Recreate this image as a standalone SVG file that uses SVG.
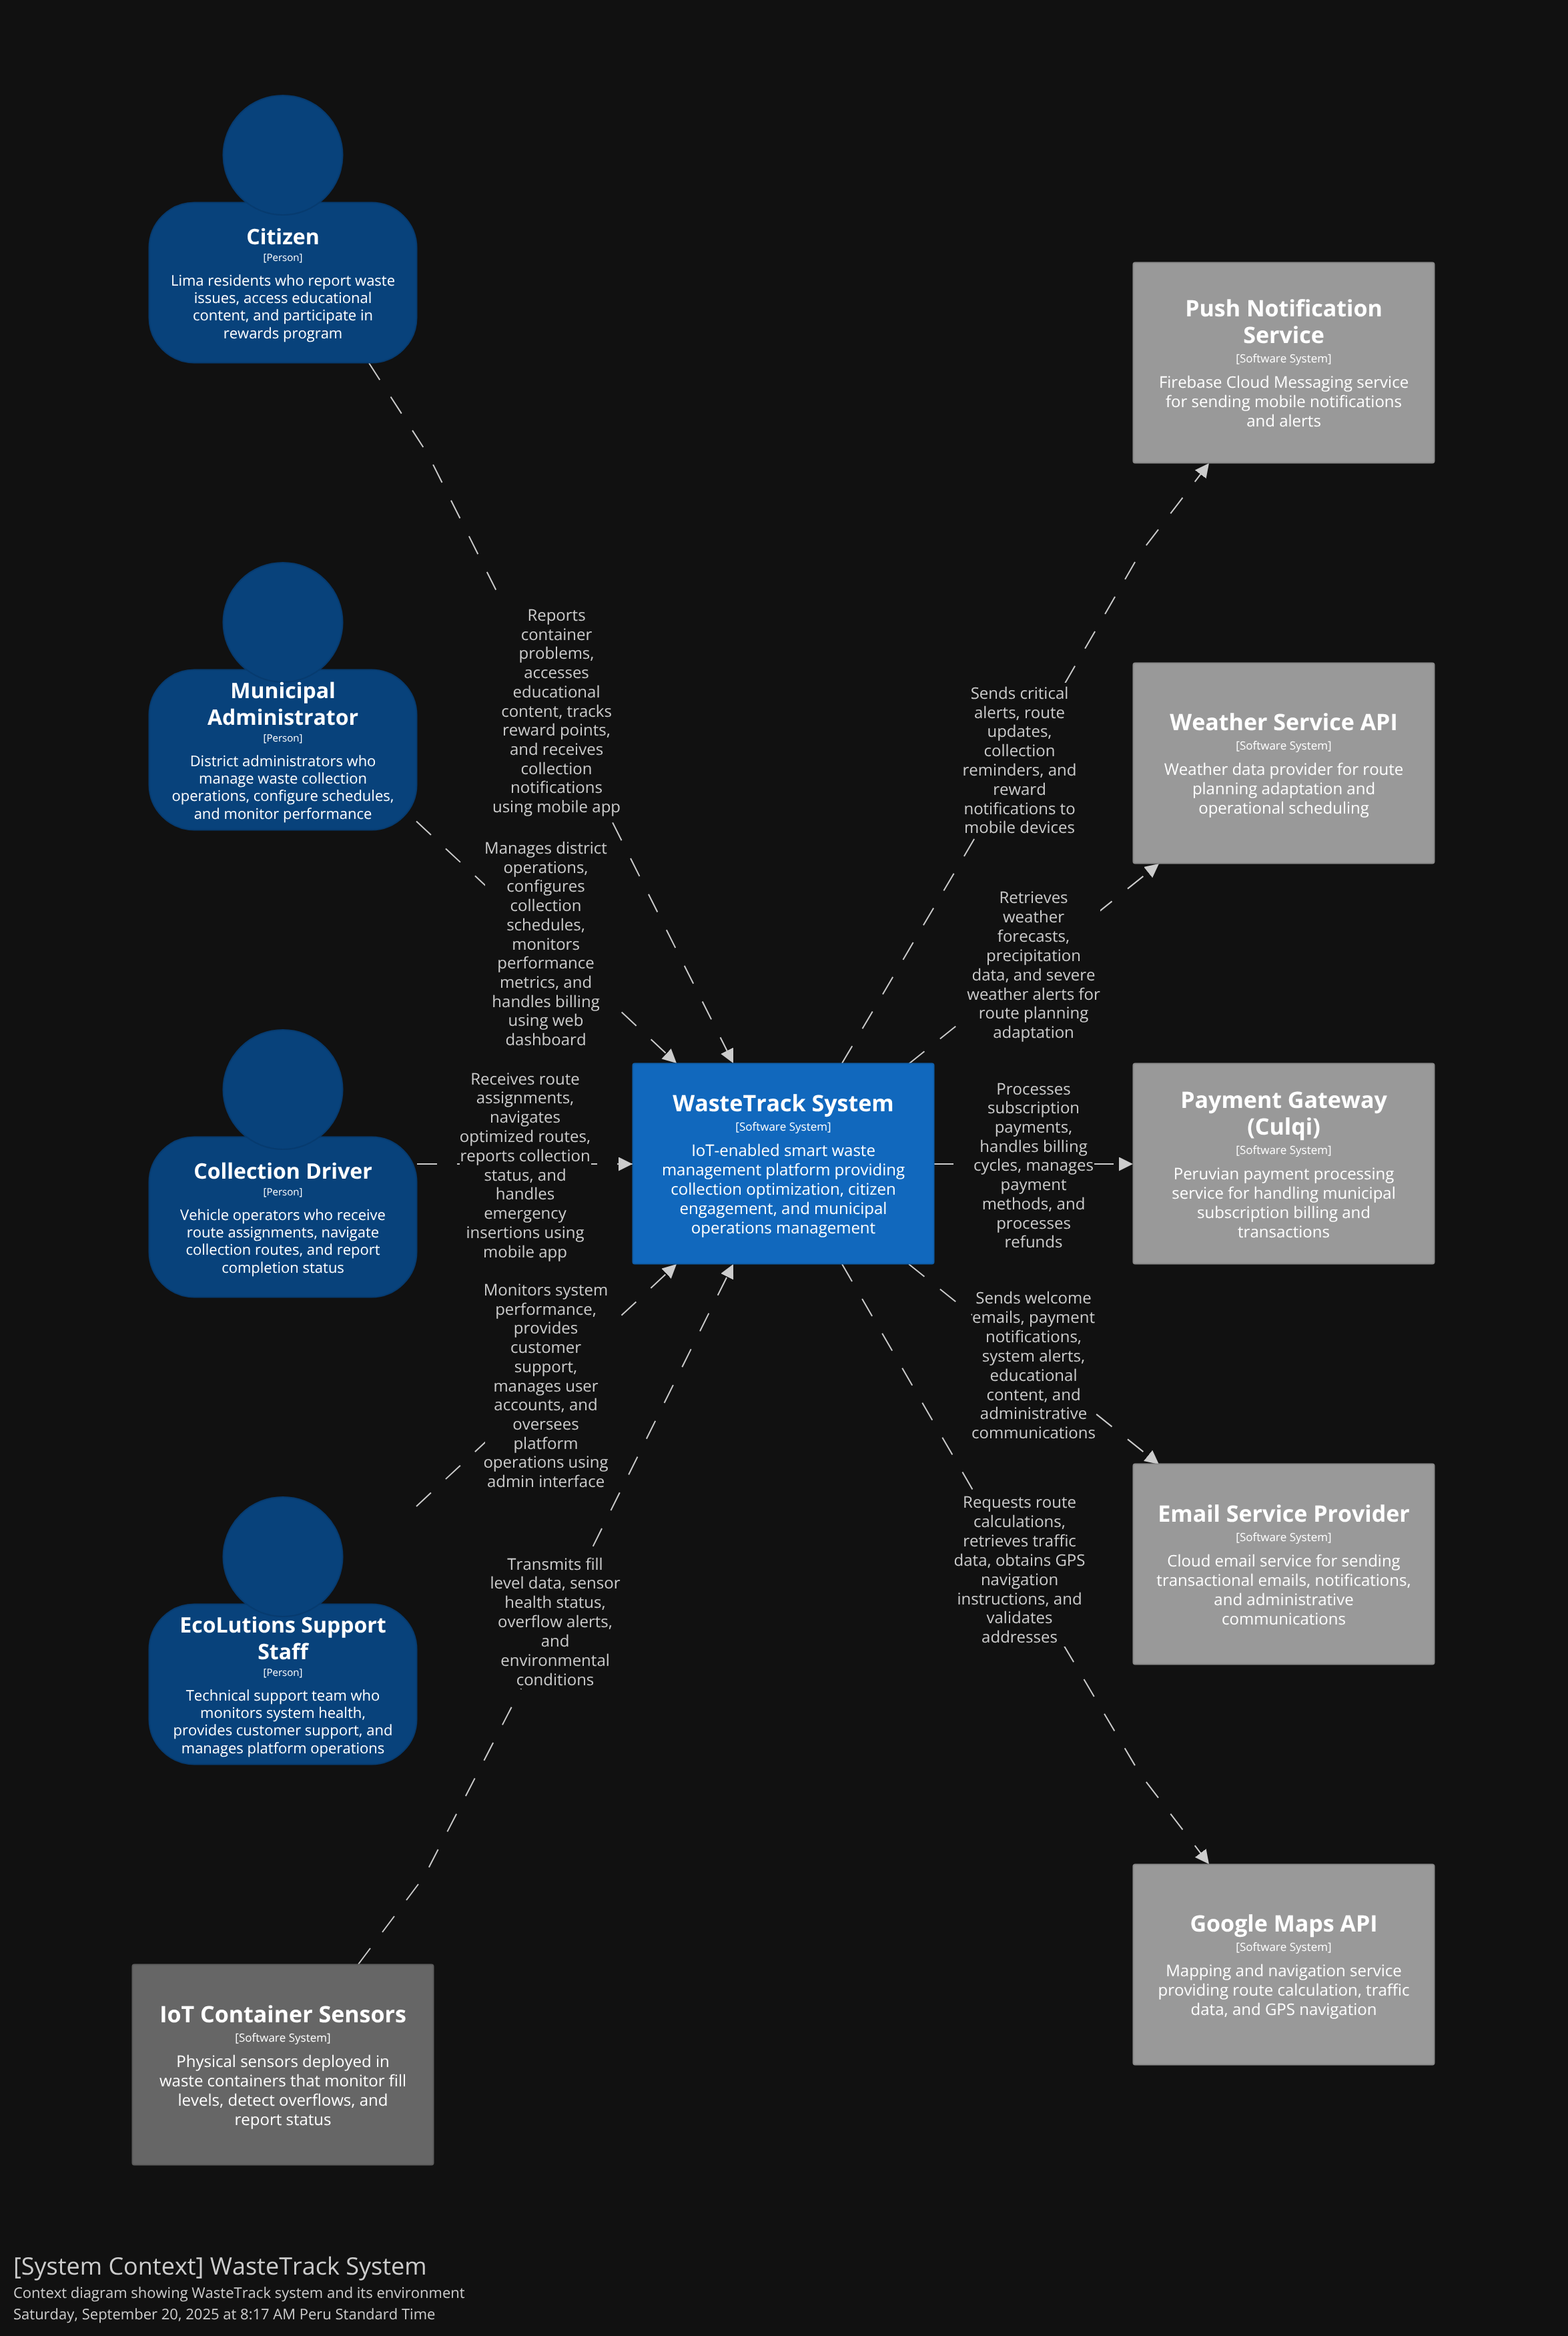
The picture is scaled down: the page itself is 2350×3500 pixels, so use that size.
<svg xmlns="http://www.w3.org/2000/svg" width="2350" height="3500" viewBox="0 0 2350 3500">
<defs>
<filter id="gray" x="-10%" y="-10%" width="120%" height="120%" color-interpolation-filters="sRGB"><feOffset dx="0" dy="0"/></filter>
<style>
text{font-family:"Open Sans","Noto Sans","Liberation Sans",sans-serif;text-anchor:middle;text-rendering:geometricPrecision;filter:url(#gray)}
.pb,.pc{fill:#08427b;stroke:#073b6f;stroke-width:2}
.main{fill:#1168bd;stroke:#0f5eaa;stroke-width:2}
.ext{fill:#999999;stroke:#8a8a8a;stroke-width:2}
.iot{fill:#666666;stroke:#5c5c5c;stroke-width:2}
.t{fill:#ffffff;font-weight:700;font-size:34px}
.tp{fill:#ffffff;font-weight:700;font-size:32px}
.pk{fill:#ffffff;font-size:15px}
.pd{fill:#ffffff;font-size:22px}
.bk{fill:#ffffff;font-size:17px}
.bd{fill:#ffffff;font-size:24px}
.edge{fill:none;stroke:#cccccc;stroke-width:2;stroke-dasharray:30 30;marker-end:url(#arrow)}
.mask{fill:#111111}
.lab{fill:#cccccc;font-size:24px}
.f1{fill:#cccccc;font-size:36px;text-anchor:start}
.f2{fill:#cccccc;font-size:22px;text-anchor:start}
</style>
<marker id="arrow" markerUnits="userSpaceOnUse" markerWidth="22" markerHeight="22" refX="21" refY="10.5" orient="auto"><path d="M0,0 L21,10.5 L0,21 Z" fill="#cccccc"/></marker>
</defs>
<rect width="2350" height="3500" fill="#111111"/>
<g id="connectors">
<path class="edge" d="M553,544 L642,682 L1099,1593"/>
<path class="edge" d="M624,1230.6 L1014,1593"/>
<path class="edge" d="M625,1744 L948,1744"/>
<path class="edge" d="M624,2257 L1014,1894"/>
<path class="edge" d="M537,2943 L636,2811 L830,2435 L1099,1894"/>
<path class="edge" d="M1262,1593 L1525,1147 L1708,830 L1812,694"/>
<path class="edge" d="M1362,1594 L1737,1294"/>
<path class="edge" d="M1399,1744 L1698,1744"/>
<path class="edge" d="M1362,1894 L1737,2194"/>
<path class="edge" d="M1262,1894 L1526,2350 L1708,2657 L1812,2793"/>
<g id="edge-labels">
<rect class="mask" x="738" y="906" width="192" height="317"/>
<text class="lab" x="834"><tspan x="834" y="930">Reports</tspan><tspan x="834" y="958.7">container</tspan><tspan x="834" y="987.4">problems,</tspan><tspan x="834" y="1016.1">accesses</tspan><tspan x="834" y="1044.8">educational</tspan><tspan x="834" y="1073.5">content, tracks</tspan><tspan x="834" y="1102.2">reward points,</tspan><tspan x="834" y="1130.9">and receives</tspan><tspan x="834" y="1159.6">collection</tspan><tspan x="834" y="1188.3">notifications</tspan><tspan x="834" y="1217">using mobile app</tspan></text>
<rect class="mask" x="727" y="1255" width="184" height="317"/>
<text class="lab"><tspan x="818" y="1279">Manages district</tspan><tspan x="818" y="1307.7">operations,</tspan><tspan x="818" y="1336.4">configures</tspan><tspan x="818" y="1365.1">collection</tspan><tspan x="818" y="1393.8">schedules,</tspan><tspan x="818" y="1422.5">monitors</tspan><tspan x="818" y="1451.2">performance</tspan><tspan x="818" y="1479.9">metrics, and</tspan><tspan x="818" y="1508.6">handles billing</tspan><tspan x="818" y="1537.3">using web</tspan><tspan x="818" y="1566">dashboard</tspan></text>
<rect class="mask" x="689" y="1600" width="197" height="290"/>
<text class="lab"><tspan x="787" y="1624.5">Receives route</tspan><tspan x="787" y="1653.3">assignments,</tspan><tspan x="787" y="1682.1">navigates</tspan><tspan x="787" y="1710.9">optimized routes,</tspan><tspan x="787" y="1739.7">reports collection</tspan><tspan x="787" y="1768.5">status, and</tspan><tspan x="787" y="1797.3">handles</tspan><tspan x="787" y="1826.1">emergency</tspan><tspan x="787" y="1854.9">insertions using</tspan><tspan x="787" y="1883.7">mobile app</tspan></text>
<rect class="mask" x="727" y="1917" width="184" height="317"/>
<text class="lab"><tspan x="818" y="1941">Monitors system</tspan><tspan x="818" y="1969.7">performance,</tspan><tspan x="818" y="1998.4">provides</tspan><tspan x="818" y="2027.1">customer</tspan><tspan x="818" y="2055.8">support,</tspan><tspan x="818" y="2084.5">manages user</tspan><tspan x="818" y="2113.2">accounts, and</tspan><tspan x="818" y="2141.9">oversees</tspan><tspan x="818" y="2170.6">platform</tspan><tspan x="818" y="2199.3">operations using</tspan><tspan x="818" y="2228">admin interface</tspan></text>
<rect class="mask" x="735" y="2327" width="194" height="203"/>
<text class="lab"><tspan x="832" y="2351.5">Transmits fill</tspan><tspan x="832" y="2380.4">level data, sensor</tspan><tspan x="832" y="2409.3">health status,</tspan><tspan x="832" y="2438.2">overflow alerts,</tspan><tspan x="832" y="2467.1">and</tspan><tspan x="832" y="2496">environmental</tspan><tspan x="832" y="2525">conditions</tspan></text>
<rect class="mask" x="1443" y="1023" width="170" height="231"/>
<text class="lab"><tspan x="1528" y="1046.7">Sends critical</tspan><tspan x="1528" y="1075.5">alerts, route</tspan><tspan x="1528" y="1104.3">updates,</tspan><tspan x="1528" y="1133.1">collection</tspan><tspan x="1528" y="1161.9">reminders, and</tspan><tspan x="1528" y="1190.7">reward</tspan><tspan x="1528" y="1219.5">notifications to</tspan><tspan x="1528" y="1248.3">mobile devices</tspan></text>
<rect class="mask" x="1450" y="1329" width="199" height="232"/>
<text class="lab"><tspan x="1549" y="1353">Retrieves</tspan><tspan x="1549" y="1381.9">weather</tspan><tspan x="1549" y="1410.8">forecasts,</tspan><tspan x="1549" y="1439.7">precipitation</tspan><tspan x="1549" y="1468.6">data, and severe</tspan><tspan x="1549" y="1497.5">weather alerts for</tspan><tspan x="1549" y="1526.4">route planning</tspan><tspan x="1549" y="1555.3">adaptation</tspan></text>
<rect class="mask" x="1459" y="1616" width="181" height="259"/>
<text class="lab"><tspan x="1549" y="1639.6">Processes</tspan><tspan x="1549" y="1668.3">subscription</tspan><tspan x="1549" y="1697">payments,</tspan><tspan x="1549" y="1725.7">handles billing</tspan><tspan x="1549" y="1754.4">cycles, manages</tspan><tspan x="1549" y="1783.1">payment</tspan><tspan x="1549" y="1811.8">methods, and</tspan><tspan x="1549" y="1840.5">processes</tspan><tspan x="1549" y="1869.4">refunds</tspan></text>
<rect class="mask" x="1457" y="1929" width="185" height="232"/>
<text class="lab"><tspan x="1549" y="1953">Sends welcome</tspan><tspan x="1549" y="1981.9">emails, payment</tspan><tspan x="1549" y="2010.8">notifications,</tspan><tspan x="1549" y="2039.7">system alerts,</tspan><tspan x="1549" y="2068.6">educational</tspan><tspan x="1549" y="2097.5">content, and</tspan><tspan x="1549" y="2126.4">administrative</tspan><tspan x="1549" y="2155.3">communications</tspan></text>
<rect class="mask" x="1430" y="2235" width="198" height="232"/>
<text class="lab"><tspan x="1528" y="2259">Requests route</tspan><tspan x="1528" y="2287.9">calculations,</tspan><tspan x="1528" y="2316.8">retrieves traffic</tspan><tspan x="1528" y="2345.7">data, obtains GPS</tspan><tspan x="1528" y="2374.6">navigation</tspan><tspan x="1528" y="2403.5">instructions, and</tspan><tspan x="1528" y="2432.4">validates</tspan><tspan x="1528" y="2461.3">addresses</tspan></text>
</g>
</g>
<g id="citizen">
<rect class="pb" x="223.5" y="303.5" width="401" height="240" rx="68"/><circle class="pc" cx="424" cy="232.5" r="89.5"/>
<text class="tp" x="424" y="366">Citizen</text><text class="pk" x="424" y="391">[Person]</text>
<text class="pd"><tspan x="424" y="428">Lima residents who report waste</tspan><tspan x="424" y="454.2">issues, access educational</tspan><tspan x="424" y="480.4">content, and participate in</tspan><tspan x="424" y="506.6">rewards program</tspan></text>
</g>
<g id="municipal-administrator">
<rect class="pb" x="223.5" y="1003.5" width="401" height="240" rx="68"/><circle class="pc" cx="424" cy="932.5" r="89.5"/>
<text class="tp"><tspan x="424" y="1046">Municipal</tspan><tspan x="424" y="1086">Administrator</tspan></text><text class="pk" x="424" y="1111">[Person]</text>
<text class="pd"><tspan x="424" y="1148">District administrators who</tspan><tspan x="424" y="1174.2">manage waste collection</tspan><tspan x="424" y="1200.4">operations, configure schedules,</tspan><tspan x="424" y="1226.6">and monitor performance</tspan></text>
</g>
<g id="collection-driver">
<rect class="pb" x="223.5" y="1703.5" width="401" height="240" rx="68"/><circle class="pc" cx="424" cy="1632.5" r="89.5"/>
<text class="tp" x="424" y="1766">Collection Driver</text><text class="pk" x="424" y="1791">[Person]</text>
<text class="pd"><tspan x="424" y="1828">Vehicle operators who receive</tspan><tspan x="424" y="1854.2">route assignments, navigate</tspan><tspan x="424" y="1880.4">collection routes, and report</tspan><tspan x="424" y="1906.6">completion status</tspan></text>
</g>
<g id="ecolutions-support-staff">
<rect class="pb" x="223.5" y="2403.5" width="401" height="240" rx="68"/><circle class="pc" cx="424" cy="2332.5" r="89.5"/>
<text class="tp"><tspan x="424" y="2446">EcoLutions Support</tspan><tspan x="424" y="2486">Staff</tspan></text><text class="pk" x="424" y="2511">[Person]</text>
<text class="pd"><tspan x="424" y="2548">Technical support team who</tspan><tspan x="424" y="2574.2">monitors system health,</tspan><tspan x="424" y="2600.4">provides customer support, and</tspan><tspan x="424" y="2626.6">manages platform operations</tspan></text>
</g>
<g id="wastetrack-system">
<rect class="main" x="948.5" y="1593.5" width="451" height="300" rx="3"/>
<text class="t" x="1174" y="1665">WasteTrack System</text><text class="bk" x="1174" y="1694">[Software System]</text>
<text class="bd"><tspan x="1174" y="1732">IoT-enabled smart waste</tspan><tspan x="1174" y="1761">management platform providing</tspan><tspan x="1174" y="1790">collection optimization, citizen</tspan><tspan x="1174" y="1819">engagement, and municipal</tspan><tspan x="1174" y="1848">operations management</tspan></text>
</g>
<g id="push-notification-service">
<rect class="ext" x="1698.5" y="393.5" width="451" height="300" rx="3"/>
<text class="t"><tspan x="1924" y="474">Push Notification</tspan><tspan x="1924" y="514">Service</tspan></text><text class="bk" x="1924" y="543">[Software System]</text>
<text class="bd"><tspan x="1924" y="581">Firebase Cloud Messaging service</tspan><tspan x="1924" y="610">for sending mobile notifications</tspan><tspan x="1924" y="639">and alerts</tspan></text>
</g>
<g id="weather-service-api">
<rect class="ext" x="1698.5" y="993.5" width="451" height="300" rx="3"/>
<text class="t" x="1924" y="1094">Weather Service API</text><text class="bk" x="1924" y="1123">[Software System]</text>
<text class="bd"><tspan x="1924" y="1161">Weather data provider for route</tspan><tspan x="1924" y="1190">planning adaptation and</tspan><tspan x="1924" y="1219">operational scheduling</tspan></text>
</g>
<g id="payment-gateway">
<rect class="ext" x="1698.5" y="1593.5" width="451" height="300" rx="3"/>
<text class="t"><tspan x="1924" y="1659.5">Payment Gateway</tspan><tspan x="1924" y="1699.5">(Culqi)</tspan></text><text class="bk" x="1924" y="1728.5">[Software System]</text>
<text class="bd"><tspan x="1924" y="1766.5">Peruvian payment processing</tspan><tspan x="1924" y="1795.5">service for handling municipal</tspan><tspan x="1924" y="1824.5">subscription billing and</tspan><tspan x="1924" y="1853.5">transactions</tspan></text>
</g>
<g id="email-service-provider">
<rect class="ext" x="1698.5" y="2193.5" width="451" height="300" rx="3"/>
<text class="t" x="1924" y="2279.5">Email Service Provider</text><text class="bk" x="1924" y="2308.5">[Software System]</text>
<text class="bd"><tspan x="1924" y="2346.5">Cloud email service for sending</tspan><tspan x="1924" y="2375.5">transactional emails, notifications,</tspan><tspan x="1924" y="2404.5">and administrative</tspan><tspan x="1924" y="2433.5">communications</tspan></text>
</g>
<g id="google-maps-api">
<rect class="ext" x="1698.5" y="2793.5" width="451" height="300" rx="3"/>
<text class="t" x="1924" y="2894">Google Maps API</text><text class="bk" x="1924" y="2923">[Software System]</text>
<text class="bd"><tspan x="1924" y="2961">Mapping and navigation service</tspan><tspan x="1924" y="2990">providing route calculation, traffic</tspan><tspan x="1924" y="3019">data, and GPS navigation</tspan></text>
</g>
<g id="iot-container-sensors">
<rect class="iot" x="198.5" y="2943.5" width="451" height="300" rx="3"/>
<text class="t" x="424" y="3029.5">IoT Container Sensors</text><text class="bk" x="424" y="3058.5">[Software System]</text>
<text class="bd"><tspan x="424" y="3096.5">Physical sensors deployed in</tspan><tspan x="424" y="3125.5">waste containers that monitor fill</tspan><tspan x="424" y="3154.5">levels, detect overflows, and</tspan><tspan x="424" y="3183.5">report status</tspan></text>
</g>
<g id="footer">
<text class="f1" x="20" y="3408">[System Context] WasteTrack System</text>
<text class="f2" x="20" y="3443">Context diagram showing WasteTrack system and its environment</text>
<text class="f2" x="20" y="3475">Saturday, September 20, 2025 at 8:17 AM Peru Standard Time</text>
</g>
</svg>
